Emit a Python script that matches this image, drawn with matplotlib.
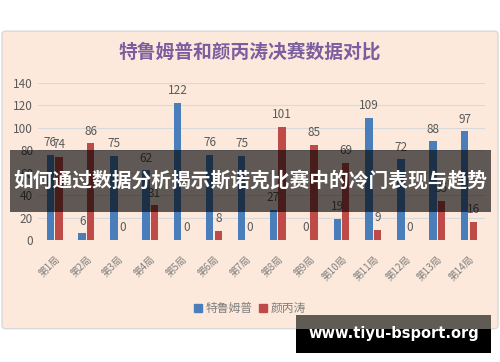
import numpy as np
import matplotlib.pyplot as plt
from matplotlib.patches import FancyBboxPatch, Rectangle

plt.rcParams['font.family'] = ['Noto Sans CJK SC', 'DejaVu Sans']

frames = ['第1局', '第2局', '第3局', '第4局', '第5局', '第6局', '第7局',
          '第8局', '第9局', '第10局', '第11局', '第12局', '第13局', '第14局']
trump = [76, 6, 75, 62, 122, 76, 75, 27, 0, 19, 109, 72, 88, 97]
yan = [74, 86, 0, 31, 0, 8, 0, 101, 85, 69, 9, 0, 35, 16]
names = ['特鲁姆普', '颜丙涛']

blue = '#4a7ebb'
red = '#be4b48'
gray = '#595959'

fig = plt.figure(figsize=(5, 3.62), dpi=100)
fig.patch.set_facecolor('white')

# peach panel behind the chart
panel = FancyBboxPatch((0.004, 0.092), 0.992, 0.822, boxstyle='round,pad=0,rounding_size=0.008',
                       transform=fig.transFigure, facecolor='#fce9dc', edgecolor='#d9d9d9',
                       linewidth=1, zorder=-5)
fig.patches.append(panel)

fig.text(0.5, 0.856, '特鲁姆普和颜丙涛决赛数据对比', ha='center', va='center',
         fontsize=13.5, fontweight='bold', color='#7b5ea0')

ax = fig.add_axes([0.076, 0.337, 0.894, 0.434])
ax.set_facecolor('none')
x = np.arange(len(frames))
w = 0.23
b1 = ax.bar(x - 0.135, trump, w, color=blue, zorder=3)
b2 = ax.bar(x + 0.135, yan, w, color=red, zorder=3)
for bars, vals in ((b1, trump), (b2, yan)):
    for rect, v in zip(bars, vals):
        ax.text(rect.get_x() + rect.get_width() / 2, v + 5, str(v), ha='center', va='bottom',
                fontsize=8.5, color=gray, zorder=4)

ax.set_ylim(0, 140)
ax.set_xlim(-0.52, 13.5)
ax.set_yticks(range(0, 141, 20))
ax.grid(axis='y', color='#d9d9d9', linewidth=0.8, zorder=0)
for s in ax.spines.values():
    s.set_visible(False)
ax.tick_params(length=0, colors=gray, labelsize=8.5)
ax.set_xticks(x)
ax.set_xticklabels(frames, rotation=45, ha='right', rotation_mode='anchor', fontsize=7,
                   color='#7f7f7f')
ax.tick_params(axis='x', pad=10)

handles = [Rectangle((0, 0), 1, 1, color=blue), Rectangle((0, 0), 1, 1, color=red)]
fig.legend(handles, names, loc='center', bbox_to_anchor=(0.5, 0.147), ncol=2, frameon=False,
           fontsize=8.5, handlelength=0.7, handleheight=0.7, handletextpad=0.3, columnspacing=0.5,
           labelcolor='#7f7f7f')

# dark banner across the middle
fig.patches.append(Rectangle((0.02, 0.415), 0.962, 0.171, transform=fig.transFigure,
                             facecolor='black', alpha=0.62, zorder=10))
fig.text(0.5, 0.5, '如何通过数据分析揭示斯诺克比赛中的冷门表现与趋势', ha='center', va='center',
         fontsize=14.2, fontweight='bold', color='white', zorder=11)

# watermark box
fig.patches.append(Rectangle((0.592, 0.09), 0.39, 0.04, transform=fig.transFigure,
                             facecolor='#615b56', zorder=10))
fig.patches.append(Rectangle((0.592, 0.026), 0.39, 0.066, transform=fig.transFigure,
                             facecolor='black', zorder=10))
fig.text(0.787, 0.078, 'www.tiyu-bsport.org', ha='center', va='center', fontsize=10.5,
         fontweight='bold', color='white', family='DejaVu Sans', zorder=11)

fig.savefig('out.png', dpi=100)
